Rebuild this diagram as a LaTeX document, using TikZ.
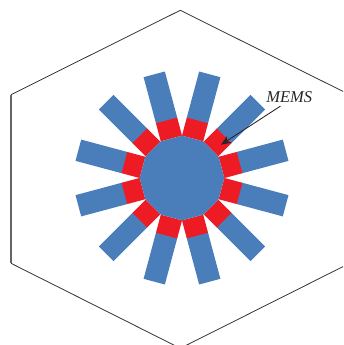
\documentclass[tikz,border=0pt]{standalone}
\usepackage{fontspec}
\setmainfont{Liberation Serif}
\usetikzlibrary{arrows.meta}
\tikzset{
    hexline/.style={draw=black!80, line width=0.45pt},
    hexside/.style={draw=black!60, line width=1pt},
    armblue/.style={fill={rgb,255:red,74;green,126;blue,187}},
    armred/.style={fill={rgb,255:red,237;green,28;blue,36}},
    pointer/.style={draw=black!85, line width=0.5pt, shorten <=1.3mm, -{Stealth[length=2mm, width=1.6mm]}},
    mems/.style={font=\itshape\fontsize{9.4}{11}\selectfont, text=black!85, inner sep=0pt}
}

\begin{document}
\begin{tikzpicture}[x=0.02cm, y=0.02cm]
    \clip (-182,-167) rectangle (161,178);

    % hexagon
    \coordinate (H1) at (-1.7,167.7);
    \coordinate (H2) at (167.6,83.3);
    \coordinate (H3) at (167.6,-85.3);
    \coordinate (H4) at (-1.7,-170.3);
    \coordinate (H5) at (-171,-85.3);
    \coordinate (H6) at (-171,83.3);
    \draw[hexline] (H5) -- (H4) -- (H3) -- (H2) -- (H1) -- (H6);
    \draw[hexside] (H6) -- (H5);

    % arms
    \foreach \a/\w in {15/11,45/10.3,75/11,105/11,135/10.3,165/11,195/11,225/10.3,255/11,285/11,315/10.3,345/11}{
        \fill[armblue, rotate=\a] (59,-\w) rectangle (107.3,\w);
        \fill[armred, rotate=\a] (40.9,-\w) rectangle (59.6,\w);
    }

    % hub
    \fill[armblue] (0:42.3) \foreach \a in {30,60,...,330}{ -- (\a:42.3)} -- cycle;

    % label
    \node[mems] (memslabel) at (107.3,81.3) {MEMS};
    \coordinate (memstip) at (39,33.3);
    \draw[pointer] (memslabel.-120) -- (memstip);
\end{tikzpicture}
\end{document}
